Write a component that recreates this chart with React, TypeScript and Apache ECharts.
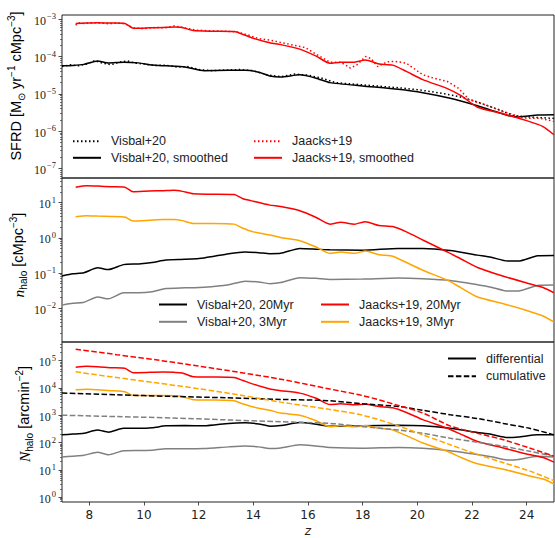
import { useEffect, useRef } from "react";
import * as echarts from "echarts";

// ---- redshift grids ----
const zJ = [7.5, 7.9, 8.3, 8.8, 9.3, 9.6, 10.2, 10.7, 11.1, 11.4, 11.8, 12.5, 13.3, 13.6, 14.0, 14.6, 15.0, 15.7, 16.3, 16.8, 17.2, 17.7, 18.1, 18.6, 19.1, 19.6, 20.2, 21.1, 21.6, 22.2, 23.15, 24.0, 24.6, 25.0];
const zV = [7.0, 7.4, 7.8, 8.3, 8.7, 9.25, 9.8, 10.3, 10.8, 11.5, 12.2, 13.1, 13.7, 14.2, 14.6, 15.0, 15.7, 16.3, 16.8, 18.0, 19.3, 20.2, 21.2, 22.2, 22.7, 23.3, 23.7, 24.4, 25.0];
const zVRaw = [7.0, 7.3, 7.6, 7.9, 8.2, 8.5, 8.8, 9.1, 9.4, 9.7, 10.0, 10.4, 10.8, 11.2, 11.6, 12.0, 12.5, 13.0, 13.5, 14.0, 14.5, 15.0, 15.5, 16.0, 16.5, 17.0, 17.5, 18.0, 18.5, 19.0, 19.5, 20.0, 20.5, 21.0, 21.5, 22.0, 22.5, 23.0, 23.5, 24.0, 24.5, 25.0];
const zJRaw = [7.5, 7.6, 7.8, 8.1, 8.4, 8.7, 9.0, 9.3, 9.6, 10.0, 10.4, 10.8, 11.1, 11.4, 11.9, 12.4, 12.9, 13.4, 13.8, 14.2, 14.6, 15.0, 15.5, 15.9, 16.4, 16.8, 17.2, 17.55, 17.8, 18.1, 18.3, 18.55, 18.9, 19.2, 19.6, 20.2, 20.6, 21.1, 21.5, 21.9, 22.5, 23.15, 23.9, 24.5, 25.0];
const zCumJ = [7.5, 9.0, 10.5, 12.0, 13.5, 15.0, 16.8, 18.0, 19.3, 20.2, 21.2, 22.2, 23.15, 24.1, 25.0];
const zCumV = [7.0, 9.0, 11.0, 13.0, 15.0, 16.8, 18.0, 19.3, 20.2, 21.2, 22.2, 23.15, 24.1, 25.0];

// ---- panel 1: log10 SFRD [Msun/yr/cMpc^3] ----
const sfrdVisbalRaw = [-4.27, -4.22, -4.25, -4.20, -4.11, -4.18, -4.22, -4.15, -4.12, -4.18, -4.20, -4.24, -4.23, -4.28, -4.27, -4.35, -4.38, -4.36, -4.35, -4.38, -4.49, -4.54, -4.47, -4.50, -4.58, -4.70, -4.73, -4.76, -4.79, -4.82, -4.85, -4.89, -4.94, -5.00, -5.07, -5.17, -5.30, -5.43, -5.58, -5.62, -5.64, -5.66];
const sfrdVisbalSmooth = [-4.25, -4.24, -4.21, -4.12, -4.17, -4.15, -4.17, -4.23, -4.25, -4.28, -4.38, -4.37, -4.37, -4.42, -4.52, -4.55, -4.49, -4.58, -4.70, -4.79, -4.88, -4.97, -5.12, -5.32, -5.44, -5.58, -5.62, -5.57, -5.56];
const sfrdJaacksRaw = [-3.16, -3.09, -3.11, -3.09, -3.10, -3.12, -3.10, -3.12, -3.23, -3.25, -3.22, -3.23, -3.18, -3.22, -3.29, -3.31, -3.32, -3.34, -3.42, -3.52, -3.56, -3.62, -3.70, -3.76, -3.98, -4.15, -4.15, -4.31, -4.22, -4.00, -4.05, -4.27, -4.14, -4.13, -4.18, -4.49, -4.58, -4.67, -4.85, -5.16, -5.30, -5.48, -5.65, -5.66, -5.74];
const sfrdJaacksSmooth = [-3.11, -3.10, -3.09, -3.10, -3.11, -3.24, -3.23, -3.22, -3.21, -3.22, -3.30, -3.32, -3.33, -3.40, -3.51, -3.63, -3.68, -3.80, -3.99, -4.18, -4.15, -4.15, -4.09, -4.20, -4.23, -4.40, -4.62, -4.86, -5.05, -5.36, -5.54, -5.72, -5.88, -6.10];

// ---- panel 2: log10 n_halo [cMpc^-3] ----
const nVisbal20 = [-1.08, -1.02, -0.99, -0.85, -0.90, -0.76, -0.74, -0.70, -0.63, -0.61, -0.57, -0.45, -0.40, -0.42, -0.45, -0.44, -0.30, -0.32, -0.34, -0.35, -0.30, -0.30, -0.36, -0.49, -0.55, -0.66, -0.66, -0.51, -0.50];
const nVisbal3 = [-1.91, -1.86, -1.83, -1.68, -1.73, -1.56, -1.56, -1.53, -1.44, -1.42, -1.40, -1.33, -1.23, -1.25, -1.30, -1.27, -1.13, -1.15, -1.18, -1.17, -1.14, -1.16, -1.21, -1.33, -1.40, -1.51, -1.51, -1.35, -1.34];
const nJaacks20 = [1.44, 1.48, 1.47, 1.45, 1.44, 1.31, 1.33, 1.34, 1.35, 1.32, 1.25, 1.24, 1.23, 1.12, 1.04, 0.93, 0.89, 0.77, 0.58, 0.39, 0.44, 0.39, 0.46, 0.35, 0.32, 0.17, -0.06, -0.40, -0.60, -0.84, -1.09, -1.28, -1.41, -1.56];
const nJaacks3 = [0.60, 0.63, 0.62, 0.61, 0.59, 0.48, 0.50, 0.52, 0.52, 0.49, 0.41, 0.41, 0.39, 0.28, 0.17, 0.08, 0.01, -0.08, -0.26, -0.44, -0.40, -0.44, -0.37, -0.48, -0.52, -0.70, -0.92, -1.20, -1.42, -1.68, -1.87, -2.06, -2.22, -2.39];

// ---- panel 3: log10 N_halo [arcmin^-2] ----
const diffVisbal20 = [2.28, 2.31, 2.34, 2.46, 2.38, 2.52, 2.52, 2.54, 2.61, 2.62, 2.61, 2.70, 2.72, 2.68, 2.60, 2.62, 2.73, 2.67, 2.60, 2.61, 2.63, 2.61, 2.52, 2.37, 2.30, 2.18, 2.20, 2.28, 2.28];
const diffVisbal3 = [1.47, 1.50, 1.53, 1.64, 1.55, 1.70, 1.71, 1.72, 1.77, 1.77, 1.78, 1.84, 1.87, 1.84, 1.78, 1.80, 1.92, 1.87, 1.82, 1.79, 1.82, 1.79, 1.70, 1.56, 1.48, 1.36, 1.38, 1.50, 1.47];
const diffJaacks20 = [4.76, 4.79, 4.78, 4.74, 4.72, 4.56, 4.57, 4.58, 4.57, 4.55, 4.41, 4.40, 4.38, 4.28, 4.14, 3.96, 3.90, 3.81, 3.62, 3.39, 3.42, 3.38, 3.40, 3.32, 3.27, 3.10, 2.84, 2.52, 2.30, 2.04, 1.80, 1.58, 1.45, 1.28];
const diffJaacks3 = [3.93, 3.95, 3.93, 3.90, 3.86, 3.72, 3.72, 3.72, 3.71, 3.68, 3.57, 3.56, 3.53, 3.42, 3.30, 3.18, 3.08, 3.00, 2.80, 2.58, 2.62, 2.58, 2.62, 2.52, 2.46, 2.25, 1.98, 1.68, 1.45, 1.22, 1.02, 0.80, 0.66, 0.48];
const cumJaacks20 = [5.42, 5.22, 5.02, 4.80, 4.57, 4.32, 3.96, 3.72, 3.36, 3.08, 2.61, 2.34, 2.10, 1.80, 1.50];
const cumJaacks3 = [4.59, 4.38, 4.18, 3.97, 3.74, 3.48, 3.21, 3.00, 2.61, 2.28, 1.92, 1.56, 1.26, 0.96, 0.60];
const cumVisbal20 = [3.81, 3.75, 3.69, 3.64, 3.58, 3.53, 3.42, 3.32, 3.18, 3.02, 2.88, 2.70, 2.52, 2.28];
const cumVisbal3 = [3.00, 2.95, 2.90, 2.83, 2.76, 2.70, 2.58, 2.46, 2.34, 2.16, 2.01, 1.86, 1.68, 1.50];

// ---- ticks ----
const zTicks = [8, 10, 12, 14, 16, 18, 20, 22, 24];
const expTicks1 = [-7, -6, -5, -4, -3];
const expTicks2 = [-2, -1, 0, 1];
const expTicks3 = [0, 1, 2, 3, 4, 5];

const RED = "#ff0000";
const ORANGE = "#ffa500";
const BLACK = "#000000";
const GRAY = "#808080";
const INK = "#222222";
const DOT = [1.5, 2.5];
const DASH = [5.5, 2.4];

function minorTicks(lo: number, hi: number) {
  const out: number[] = [];
  for (let e = Math.floor(lo); e <= Math.ceil(hi); e++) {
    for (let k = 2; k <= 9; k++) {
      const v = e + Math.log10(k);
      if (v > lo && v < hi) out.push(v);
    }
  }
  return out;
}

function pairs(z: number[], v: number[]) {
  return z.map((x, i) => [x, v[i]]);
}

function line(name: string, gi: number, z: number[], v: number[], color: string, type: any, smooth = 0.2) {
  return {
    type: "line",
    name,
    xAxisIndex: gi,
    yAxisIndex: gi * 2,
    data: pairs(z, v),
    symbol: "none",
    smooth,
    color,
    silent: true,
    lineStyle: { color, width: 1.5, type },
    itemStyle: { color },
  };
}

const tickRich = {
  b: { fontFamily: "Liberation Serif", fontSize: 12, color: INK, lineHeight: 15, verticalAlign: "bottom" },
  s: { fontFamily: "Liberation Serif", fontSize: 8.5, color: INK, lineHeight: 9, verticalAlign: "top", padding: [0, 0, 0, 1] },
};

function expLabel(v: number) {
  const e = Math.round(v);
  return `{b|10}{s|${e < 0 ? "\u2212" : ""}${Math.abs(e)}}`;
}

function xAxis(gi: number, show: boolean) {
  return {
    type: "value",
    gridIndex: gi,
    min: 7,
    max: 25,
    axisLine: { show: false, onZero: false },
    splitLine: { show: false },
    axisTick: { show, customValues: zTicks, length: 3.5, lineStyle: { color: INK, width: 0.8 } },
    axisLabel: { show, customValues: zTicks, margin: 7, fontFamily: "DejaVu Sans", fontSize: 12, color: INK },
    name: show ? "z" : "",
    nameLocation: "middle",
    nameGap: 23,
    nameTextStyle: { fontFamily: "DejaVu Sans", fontStyle: "italic", fontSize: 12, color: INK },
  };
}

function yAxes(gi: number, min: number, max: number, ticks: number[]) {
  return [
    {
      type: "value",
      gridIndex: gi,
      min,
      max,
      position: "left",
      axisLine: { show: false, onZero: false },
      splitLine: { show: false },
      axisTick: { show: true, customValues: ticks, length: 3.5, lineStyle: { color: INK, width: 0.8 } },
      axisLabel: { customValues: ticks, margin: 6, formatter: expLabel, rich: tickRich },
    },
    {
      type: "value",
      gridIndex: gi,
      min,
      max,
      position: "left",
      offset: 0,
      axisLine: { show: false, onZero: false },
      splitLine: { show: false },
      axisTick: { show: true, customValues: minorTicks(min, max), length: 2, lineStyle: { color: INK, width: 0.6 } },
      axisLabel: { show: false },
    },
  ];
}

const nameRich = {
  t: { fontFamily: "Liberation Sans", fontSize: 14.5, color: INK, lineHeight: 20, verticalAlign: "middle" },
  i: { fontFamily: "Liberation Serif", fontStyle: "italic", fontSize: 15.5, color: INK, lineHeight: 20, verticalAlign: "middle" },
  sup: { fontFamily: "Liberation Sans", fontSize: 10, color: INK, lineHeight: 10, verticalAlign: "top" },
  sub: { fontFamily: "Liberation Sans", fontSize: 10, color: INK, lineHeight: 10, verticalAlign: "bottom" },
};

function yLabel(text: string, x: number, y: number) {
  return {
    type: "text",
    x,
    y,
    rotation: Math.PI / 2,
    style: { text, rich: nameRich, align: "center", verticalAlign: "middle" },
    silent: true,
  };
}

function legend(left: number, top: number, gap: number, data: string[]) {
  return {
    orient: "vertical",
    left,
    top,
    padding: 0,
    itemWidth: 28,
    itemHeight: 14,
    itemGap: gap,
    selectedMode: false,
    data,
    itemStyle: { opacity: 0 },
    textStyle: { fontFamily: "Liberation Sans", fontSize: 12.5, color: INK, padding: [0, 0, 0, 5] },
  };
}

export default function App() {
  const ref = useRef<HTMLDivElement>(null);
  useEffect(() => {
    if (!ref.current) return;
    const chart = echarts.init(ref.current, undefined, { renderer: "svg" });
    const grid = (top: number, height: number) => ({
      left: 62, width: 492, top, height, show: true, borderColor: INK, borderWidth: 1, backgroundColor: "transparent",
    });
    chart.setOption({
      animation: false,
      backgroundColor: "#ffffff",
      grid: [grid(15, 163), grid(178, 164), grid(342, 163)],
      xAxis: [xAxis(0, false), xAxis(1, false), xAxis(2, true)],
      yAxis: [
        ...yAxes(0, -7.26, -2.885, expTicks1),
        ...yAxes(1, -2.957, 1.70, expTicks2),
        ...yAxes(2, -0.18, 5.683, expTicks3),
      ],
      legend: [
        legend(72, 134.7, 3.6, ["Visbal+20", "Visbal+20, smoothed"]),
        legend(253, 134.7, 3.6, ["Jaacks+19", "Jaacks+19, smoothed"]),
        legend(158, 298, 4.3, ["Visbal+20, 20Myr", "Visbal+20, 3Myr"]),
        legend(320, 298, 4.3, ["Jaacks+19, 20Myr", "Jaacks+19, 3Myr"]),
        legend(447, 352, 4.7, ["differential", "cumulative"]),
      ],
      graphic: [
        yLabel("{t|SFRD [M}{sub|\u2299}{t| yr}{sup|\u22121}{t| cMpc}{sup|\u22123}{t|]}", 16, 86),
        yLabel("{i|n}{sub|halo}{t| [cMpc}{sup|\u22123}{t|]}", 18, 255),
        yLabel("{i|N}{sub|halo}{t| [arcmin}{sup|\u22122}{t|]}", 24, 414),
      ],
      series: [
        line("Visbal+20", 0, zVRaw, sfrdVisbalRaw, BLACK, DOT, 0),
        line("Visbal+20, smoothed", 0, zV, sfrdVisbalSmooth, BLACK, "solid"),
        line("Jaacks+19", 0, zJRaw, sfrdJaacksRaw, RED, DOT, 0),
        line("Jaacks+19, smoothed", 0, zJ, sfrdJaacksSmooth, RED, "solid"),

        line("Visbal+20, 20Myr", 1, zV, nVisbal20, BLACK, "solid"),
        line("Visbal+20, 3Myr", 1, zV, nVisbal3, GRAY, "solid"),
        line("Jaacks+19, 20Myr", 1, zJ, nJaacks20, RED, "solid"),
        line("Jaacks+19, 3Myr", 1, zJ, nJaacks3, ORANGE, "solid"),

        line("N Visbal+20, 20Myr, diff", 2, zV, diffVisbal20, BLACK, "solid"),
        line("N Visbal+20, 3Myr, diff", 2, zV, diffVisbal3, GRAY, "solid"),
        line("N Jaacks+19, 20Myr, diff", 2, zJ, diffJaacks20, RED, "solid"),
        line("N Jaacks+19, 3Myr, diff", 2, zJ, diffJaacks3, ORANGE, "solid"),
        line("N Visbal+20, 20Myr, cum", 2, zCumV, cumVisbal20, BLACK, DASH, 0.3),
        line("N Visbal+20, 3Myr, cum", 2, zCumV, cumVisbal3, GRAY, DASH, 0.3),
        line("N Jaacks+19, 20Myr, cum", 2, zCumJ, cumJaacks20, RED, DASH, 0.3),
        line("N Jaacks+19, 3Myr, cum", 2, zCumJ, cumJaacks3, ORANGE, DASH, 0.3),
        line("differential", 2, [], [], BLACK, "solid"),
        line("cumulative", 2, [], [], BLACK, DASH),
      ],
    });
    return () => chart.dispose();
  }, []);
  return <div ref={ref} style={{ position: "fixed", left: 0, top: 0, width: 555, height: 538 }} />;
}
